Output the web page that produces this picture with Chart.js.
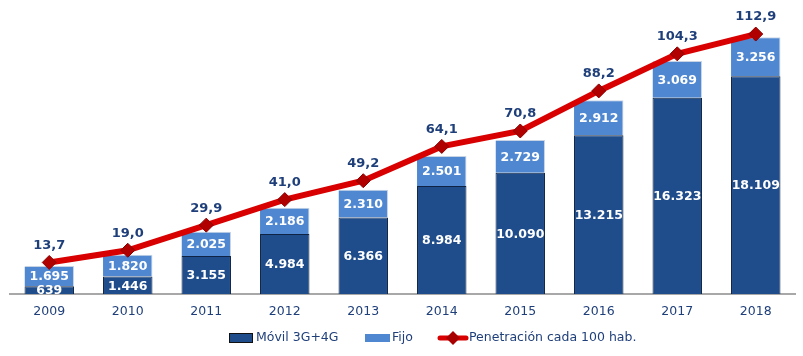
<!DOCTYPE html>
<html><head><meta charset="utf-8">
<script src="https://cdn.jsdelivr.net/npm/chart.js@4/dist/chart.umd.min.js"></script>
<style>html,body{margin:0;padding:0;background:#fff;}#wrap{width:803px;height:356px;position:relative;}</style>
</head><body><div id="wrap"><canvas id="c" width="803" height="356"></canvas></div>
<script>
const years = ['2009','2010','2011','2012','2013','2014','2015','2016','2017','2018'];
const movil = [639,1446,3155,4984,6366,8984,10090,13215,16323,18109];
const fijo = [1695,1820,2025,2186,2310,2501,2729,2912,3069,3256];
const penetracion = [13.7,19.0,29.9,41.0,49.2,64.1,70.8,88.2,104.3,112.9];
const seriesNames = ['Móvil 3G+4G','Fijo','Penetración cada 100 hab.'];

const DARK='#1f4c8b', LIGHT='#4f87d0', RED='#d80000', TXT='#1f3f7a';
const fmtInt = v => v.toLocaleString('de-DE');
const fmtDec = v => v.toFixed(1).replace('.', ',');

const labelsPlugin = {
  id:'labels',
  afterDatasetsDraw(chart){
    const ctx = chart.ctx;
    ctx.save();
    ctx.textAlign='center'; ctx.textBaseline='middle';
    ctx.font='bold 12.5px "DejaVu Sans", Verdana, sans-serif';
    ctx.fillStyle='#fff';
    [0,1].forEach(di=>{
      const meta = chart.getDatasetMeta(di);
      meta.data.forEach((el,i)=>{
        const p = el.getProps(['x','y','base'],true);
        const v = chart.data.datasets[di].data[i];
        let cy = (p.y+p.base)/2;
        if (di===0 && p.base - p.y < 14) cy = p.base - 4;
        ctx.fillText(fmtInt(v), p.x, cy+1);
      });
    });
    ctx.fillStyle=TXT;
    ctx.font='bold 13px "DejaVu Sans", Verdana, sans-serif';
    const meta = chart.getDatasetMeta(2);
    meta.data.forEach((el,i)=>{
      ctx.fillText(fmtDec(chart.data.datasets[2].data[i]), el.x, el.y-17);
    });
    ctx.restore();
  }
};

const legendPlugin = {
  id:'customLegend',
  afterDraw(chart){
    const ctx = chart.ctx;
    ctx.save();
    ctx.font='12.5px "DejaVu Sans", Verdana, sans-serif';
    ctx.textBaseline='middle';
    const y = 338;
    let x = 229;
    ctx.fillStyle=DARK; ctx.fillRect(x,y-5,24,10);
    ctx.strokeStyle='#111'; ctx.lineWidth=1; ctx.strokeRect(x+0.5,y-4.5,23,9);
    ctx.fillStyle=TXT; ctx.fillText(seriesNames[0], x+27, y);
    x = 365;
    ctx.fillStyle=LIGHT; ctx.fillRect(x,y-4,25,8);
    ctx.fillStyle=TXT; ctx.fillText(seriesNames[1], x+27, y);
    x = 438;
    ctx.strokeStyle=RED; ctx.lineWidth=5; ctx.lineCap='round';
    ctx.beginPath(); ctx.moveTo(x+2,y); ctx.lineTo(x+28,y); ctx.stroke();
    ctx.fillStyle='#a80000';
    ctx.beginPath(); ctx.moveTo(x+15,y-7); ctx.lineTo(x+22,y); ctx.lineTo(x+15,y+7); ctx.lineTo(x+8,y); ctx.closePath(); ctx.fill();
    ctx.fillStyle=TXT; ctx.fillText(seriesNames[2], x+31, y);
    ctx.restore();
  }
};

new Chart(document.getElementById('c'), {
  data:{
    labels: years,
    datasets:[
      {type:'bar', label:seriesNames[0], data:movil, yAxisID:'y', stack:'s', order:1,
       backgroundColor:DARK, borderColor:'#0f2444', borderWidth:1, categoryPercentage:1, barPercentage:0.63},
      {type:'bar', label:seriesNames[1], data:fijo, yAxisID:'y', stack:'s', order:2,
       backgroundColor:LIGHT, borderColor:'#c8d4e4', borderWidth:{top:1,right:1,left:0,bottom:0}, categoryPercentage:1, barPercentage:0.63},
      {type:'line', label:seriesNames[2], data:penetracion, yAxisID:'y2', order:0,
       borderColor:RED, borderWidth:6, tension:0, pointStyle:'rectRot', pointRadius:7,
       pointBackgroundColor:'#b00000', pointBorderColor:'#8a0000', pointBorderWidth:1, clip:false}
    ]
  },
  options:{
    responsive:false, animation:false,
    layout:{padding:{top:20,left:10,right:7,bottom:0}},
    plugins:{legend:{display:false}, tooltip:{enabled:false}},
    scales:{
      x:{stacked:true, grid:{display:false, drawTicks:false},
         border:{color:'#a8a8a8', width:2},
         ticks:{color:TXT, padding:10, font:{family:'"DejaVu Sans", Verdana, sans-serif', size:12.5}},
         afterFit(s){ s.height = 62; }},
      y:{stacked:true, display:false, min:0, max:22800},
      y2:{display:false, min:0, max:119, position:'right'}
    }
  },
  plugins:[labelsPlugin, legendPlugin]
});
</script></body></html>
